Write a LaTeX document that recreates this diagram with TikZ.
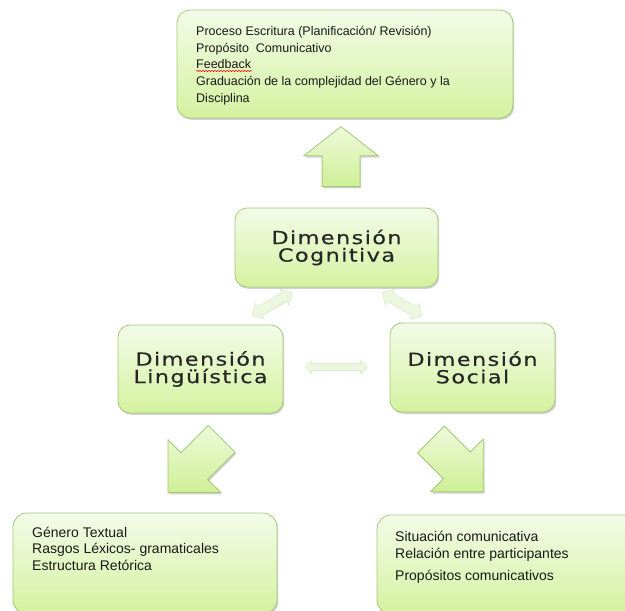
\documentclass[tikz,border=0pt]{standalone}
\usepackage{fontspec}
\usepackage{tikz}
\usetikzlibrary{shapes.arrows,shadows,decorations.pathmorphing}
\newfontfamily\listfont{Liberation Sans}
\newfontfamily\dimfont[LetterSpace=8,FakeStretch=1.24,FakeBold=0.4]{DejaVu Sans}
\definecolor{boxtop}{RGB}{243,251,232}
\definecolor{boxbot}{RGB}{212,242,160}
\definecolor{boxline}{RGB}{166,200,118}
\definecolor{arrtop}{RGB}{238,250,218}
\definecolor{arrbot}{RGB}{206,239,150}
\definecolor{faint}{RGB}{237,247,223}
\definecolor{faintline}{RGB}{220,237,198}

\begin{document}
\begin{tikzpicture}[x=1pt,y=-1pt,
  softshadow/.style={drop shadow={shadow xshift=1.2pt,shadow yshift=-1.8pt,opacity=0.3,fill=black!60}},
  greenbox/.style={rectangle,rounded corners=13pt,draw=boxline,line width=0.8pt,
    top color=boxtop,bottom color=boxbot,softshadow,inner sep=0pt},
  dimtext/.style={font=\dimfont\fontsize{18}{17.5}\selectfont,text=black!85,align=center},
  listtext/.style={font=\listfont\fontsize{12.5}{16.7}\selectfont,text=black!90,align=left,inner sep=0pt},
  bigarrow/.style={single arrow,draw=boxline,line width=0.8pt,top color=arrtop,bottom color=arrbot,
    softshadow,inner xsep=0pt,inner ysep=18.5pt,single arrow head extend=18.5pt},
  thinarrow/.style={double arrow,draw=faintline,line width=0.6pt,fill=faint,inner xsep=0pt,
    drop shadow={shadow xshift=0.8pt,shadow yshift=-1pt,opacity=0.12}}]
 \clip (0,0) rectangle (625,611);
 % ---- objetivos (arriba)
 \node[greenbox,minimum width=336pt,minimum height=108pt] (procbox) at (345,64) {};
 \node[listtext,anchor=north west] (proctext) at (196,26)
  {Proceso Escritura (Planificación/ Revisión)\\ Propósito\ \ Comunicativo\\ Feedback\\
   Graduación de la complejidad del Género y la\\ Disciplina};
 \draw[red,line width=0.5pt,decorate,decoration={snake,amplitude=0.7pt,segment length=3pt}]
  (196,71) -- (252,71);
 \node[bigarrow,rotate=90,minimum height=60pt,single arrow tip angle=104] (uparr) at (341,164) {};
 % ---- dimensiones
 \node[greenbox,dimtext,rounded corners=12pt,minimum width=203pt,minimum height=79pt] (cog) at (336.5,247.5) {Dimensión\\Cognitiva};
 \node[greenbox,dimtext,rounded corners=12pt,minimum width=165pt,minimum height=88pt] (ling) at (200.5,369) {Dimensión\\Lingüística};
 \node[greenbox,dimtext,rounded corners=12pt,minimum width=165pt,minimum height=89pt] (soc) at (472.5,367.5) {Dimensión\\Social};
 \node[thinarrow,rotate=30,minimum height=46pt,inner ysep=4.5pt,double arrow head extend=4pt] (coglink) at (272,304) {};
 \node[thinarrow,rotate=-30,minimum height=46pt,inner ysep=4.5pt,double arrow head extend=4pt] (soclink) at (402,304) {};
 \node[thinarrow,minimum height=62pt,inner ysep=3pt,double arrow head extend=3pt] (midlink) at (336,367) {};
 % ---- rasgos (abajo)
 \node[bigarrow,rotate=225,minimum height=76pt,single arrow tip angle=90] (lingarr) at (201.5,459) {};
 \node[bigarrow,rotate=-45,minimum height=74pt,single arrow tip angle=90] (socarr) at (450.5,459) {};
 \node[greenbox,rounded corners=14pt,minimum width=264pt,minimum height=101pt] (lingbox) at (145,563.5) {};
 \node[listtext,font=\listfont\fontsize{14}{16.5}\selectfont,anchor=north west] (lingtext) at (32,526.5)
  {Género Textual\\ Rasgos Léxicos- gramaticales\\ Estructura Retórica};
 \node[greenbox,rounded corners=14pt,minimum width=268pt,minimum height=99pt] (socbox) at (511,564.5) {};
 \node[listtext,font=\listfont\fontsize{14}{17}\selectfont,anchor=north west] (soctext) at (395,530.5)
  {Situación comunicativa\\ Relación entre participantes\\[5pt] Propósitos comunicativos};
\end{tikzpicture}
\end{document}
